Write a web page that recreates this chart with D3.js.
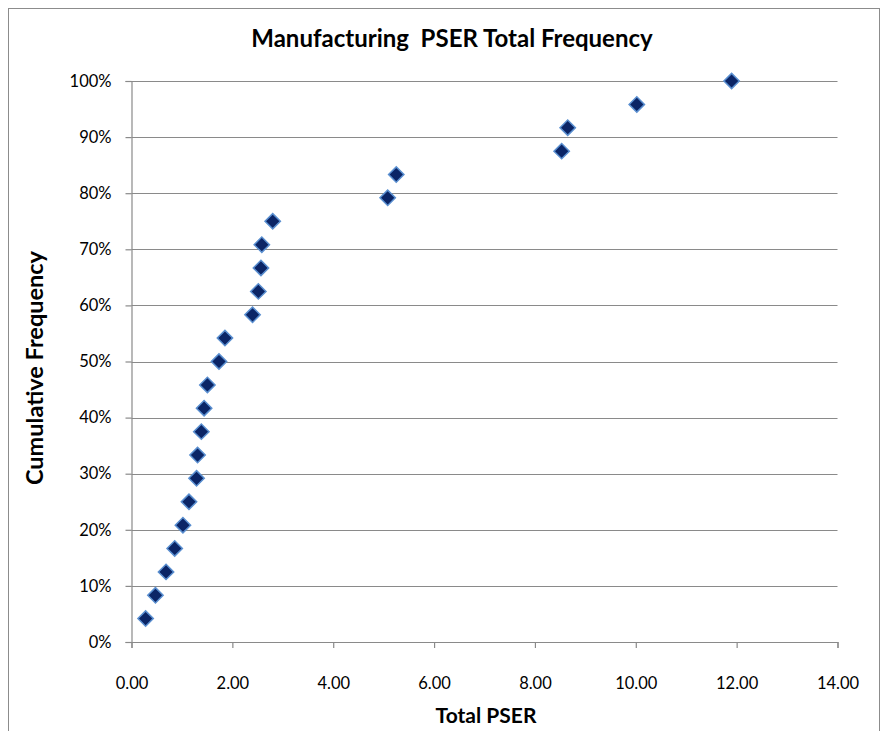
<!DOCTYPE html>
<html><head><meta charset="utf-8">
<script src="https://cdn.jsdelivr.net/npm/d3@7"></script>
<style>
html,body{margin:0;padding:0;background:#fff;}
text{font-family:Lato,"Open Sans",sans-serif;white-space:pre;}
</style></head>
<body>
<svg id="chart" width="884" height="731"></svg>
<script>
const totalPSER = [0.28,0.475,0.685,0.857,1.02,1.14,1.29,1.31,1.385,1.44,1.505,1.735,1.853,2.40,2.515,2.567,2.584,2.80,5.08,5.25,8.53,8.65,10.02,11.90];
const cumFreq = [4.17,8.33,12.5,16.67,20.83,25,29.17,33.33,37.5,41.67,45.83,50,54.17,58.33,62.5,66.67,70.83,75,79.17,83.33,87.5,91.67,95.83,100];
const xTicks = [0,2,4,6,8,10,12,14];
const yTicks = [0,10,20,30,40,50,60,70,80,90,100];
const titleText = "Manufacturing  PSER Total Frequency";
const xTitle = "Total PSER";
const yTitle = "Cumulative Frequency";

(function(){
const svg = d3.select("#chart");
svg.append("rect").attr("x",8.5).attr("y",8.5).attr("width",871).attr("height",740)
  .attr("fill","#fff").attr("stroke","#8c8c8c").attr("stroke-width",1);

const pLeft=131.5, pRight=837.5, pTop=81, pBottom=642;
const x = d3.scaleLinear().domain([0,14]).range([pLeft,pRight]);
const y = d3.scaleLinear().domain([0,100]).range([pBottom,pTop]);

svg.append("g").selectAll("line").data(yTicks.filter(d=>d>0)).join("line")
  .attr("x1",pLeft).attr("x2",pRight).attr("y1",d=>Math.round(y(d))+0.5).attr("y2",d=>Math.round(y(d))+0.5)
  .attr("stroke","#8a8a8a").attr("stroke-width",1.2);

const yAxis = d3.axisLeft(y).tickValues(yTicks).tickFormat(d=>d+"%").tickSize(6).tickPadding(14);
const gy = svg.append("g").attr("transform",`translate(${pLeft},0)`).call(yAxis);
gy.select(".domain").attr("stroke","#8a8a8a").attr("stroke-width",1.2);
gy.selectAll(".tick line").attr("stroke","#8a8a8a").attr("stroke-width",1.2);
gy.selectAll("text").attr("font-size",16.5).attr("fill","#000").attr("font-family","Lato");

const xAxis = d3.axisBottom(x).tickValues(xTicks).tickFormat(d3.format(".2f")).tickSize(6).tickPadding(29);
const gx = svg.append("g").attr("transform",`translate(0,${pBottom})`).call(xAxis);
gx.select(".domain").attr("stroke","#8a8a8a").attr("stroke-width",1.2);
gx.selectAll(".tick line").attr("stroke","#8a8a8a").attr("stroke-width",1.2);
gx.selectAll("text").attr("font-size",16.5).attr("fill","#000").attr("font-family","Lato");

const sym = d3.symbol().type(d3.symbolSquare).size(118);
svg.append("g").selectAll("path").data(totalPSER.map((v,i)=>[v,cumFreq[i]])).join("path")
  .attr("d",sym)
  .attr("transform",d=>`translate(${x(d[0])},${y(d[1])}) rotate(45)`)
  .attr("fill","#0b2566").attr("stroke","#5a8fd0").attr("stroke-width",1.5);

svg.append("text").attr("x",452).attr("y",47).attr("text-anchor","middle")
  .attr("font-size",24).attr("font-weight","bold").text(titleText);
svg.append("text").attr("x",486).attr("y",723).attr("text-anchor","middle")
  .attr("font-size",21).attr("font-weight","bold").text(xTitle);
svg.append("text").attr("transform","translate(43,368) rotate(-90)").attr("text-anchor","middle")
  .attr("font-size",23.5).attr("font-weight","bold").text(yTitle);
})();
</script>
</body></html>
